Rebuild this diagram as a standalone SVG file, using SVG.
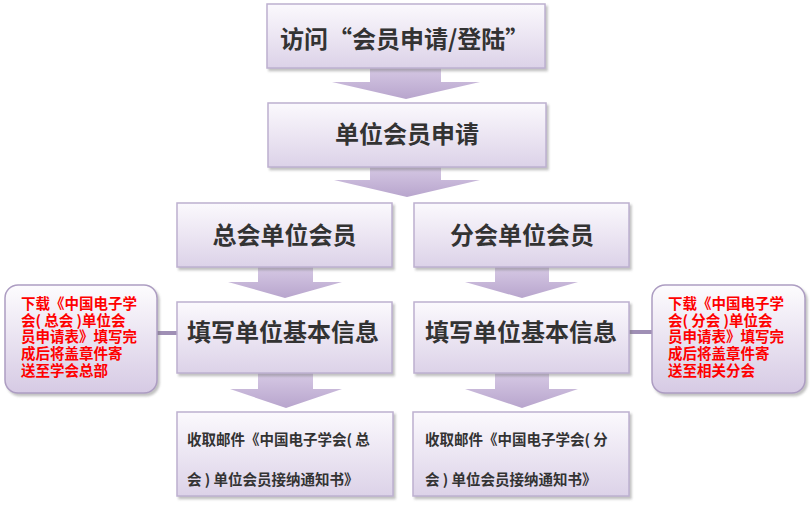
<svg xmlns="http://www.w3.org/2000/svg" width="810" height="510" viewBox="0 0 810 510">
<defs>
<linearGradient id="gBox" x1="0" y1="0" x2="0" y2="1">
<stop offset="0" stop-color="#fbf9fd"/>
<stop offset="1" stop-color="#dcd2e8"/>
</linearGradient>
<linearGradient id="gSide" x1="0" y1="0" x2="0" y2="1">
<stop offset="0" stop-color="#fdfcfe"/>
<stop offset="1" stop-color="#d6cae4"/>
</linearGradient>
<linearGradient id="gArrow" x1="0" y1="0" x2="0" y2="1">
<stop offset="0" stop-color="#d7cae5"/>
<stop offset="1" stop-color="#b8a5cd"/>
</linearGradient>
<filter id="sh" x="-10%" y="-10%" width="125%" height="130%">
<feDropShadow dx="2" dy="2.5" stdDeviation="1.2" flood-color="#777" flood-opacity="0.45"/>
</filter>
</defs>
<style>
.box{fill:url(#gBox);stroke:#bdb0d0;stroke-width:1.5;filter:url(#sh)}
.side{fill:url(#gSide);stroke:#ad9dc2;stroke-width:1.5;filter:url(#sh)}
.arr{fill:url(#gArrow);stroke:none}
.link{stroke:#9f8fb5;stroke-width:4;fill:none}
.t{font-family:"Noto Sans CJK SC","Noto Sans",sans-serif;font-weight:bold;fill:#333;font-size:24px}
.s{font-family:"Noto Sans CJK SC","Noto Sans",sans-serif;font-weight:bold;fill:#333;font-size:14.5px}
.r{font-family:"Noto Sans CJK SC","Noto Sans",sans-serif;font-weight:bold;fill:#ff0000;font-size:14.5px}
</style>
<g id="connectors">
<polygon class="arr" points="370,66 441,66 441,82 480,82 406,99 332,82 370,82"/>
<polygon class="arr" points="370,165 441,165 441,180 480,180 407,197 334,180 370,180"/>
<polygon class="arr" points="258,266 313,266 313,282 342,282 285,298 228,282 258,282"/>
<polygon class="arr" points="495,266 549,266 549,282 578,282 522,298 465,282 495,282"/>
<polygon class="arr" points="258,372 313,372 313,389 342,389 286,408 230,389 258,389"/>
<polygon class="arr" points="495,372 549,372 549,389 578,389 522,408 465,389 495,389"/>
<line class="link" x1="157" y1="333" x2="177" y2="333"/>
<line class="link" x1="629" y1="332" x2="652" y2="332"/>
</g>
<g id="n1">
<rect class="box" x="267" y="4" width="278" height="64"/>
<text class="t" x="280" y="37" dominant-baseline="central">访问“会员申请/登陆”</text>
</g>
<g id="n2">
<rect class="box" x="268" y="103" width="278" height="64"/>
<text class="t" x="407" y="132" text-anchor="middle" dominant-baseline="central">单位会员申请</text>
</g>
<g id="n3">
<rect class="box" x="177" y="203" width="215" height="64"/>
<text class="t" x="284.5" y="233" text-anchor="middle" dominant-baseline="central">总会单位会员</text>
</g>
<g id="n4">
<rect class="box" x="414" y="203" width="215" height="64"/>
<text class="t" x="522" y="233" text-anchor="middle" dominant-baseline="central">分会单位会员</text>
</g>
<g id="n5">
<rect class="box" x="177" y="302" width="215" height="71"/>
<text class="t" x="283" y="330" text-anchor="middle" dominant-baseline="central">填写单位基本信息</text>
</g>
<g id="n6">
<rect class="box" x="414" y="302" width="215" height="71"/>
<text class="t" x="521" y="330" text-anchor="middle" dominant-baseline="central">填写单位基本信息</text>
</g>
<g id="n7">
<rect class="box" x="177" y="412" width="216" height="84"/>
<text class="s" x="187" y="438" dominant-baseline="central">收取邮件《中国电子学会( 总</text>
<text class="s" x="187" y="478" dominant-baseline="central">会 ) 单位会员接纳通知书》</text>
</g>
<g id="n8">
<rect class="box" x="413" y="412" width="216" height="84"/>
<text class="s" x="425" y="438" dominant-baseline="central">收取邮件《中国电子学会( 分</text>
<text class="s" x="425" y="478" dominant-baseline="central">会 ) 单位会员接纳通知书》</text>
</g>
<g id="side-left">
<rect class="side" x="5" y="285" width="152" height="108" rx="13" ry="13"/>
<text class="r" dominant-baseline="central"><tspan x="21" y="302">下载《中国电子学</tspan><tspan x="21" y="318.5">会( 总会 )单位会</tspan><tspan x="21" y="335">员申请表》填写完</tspan><tspan x="21" y="352">成后将盖章件寄</tspan><tspan x="21" y="369">送至学会总部</tspan></text>
</g>
<g id="side-right">
<rect class="side" x="652" y="285" width="153" height="108" rx="13" ry="13"/>
<text class="r" dominant-baseline="central"><tspan x="668" y="302">下载《中国电子学</tspan><tspan x="668" y="318.5">会( 分会 )单位会</tspan><tspan x="668" y="335">员申请表》填写完</tspan><tspan x="668" y="352">成后将盖章件寄</tspan><tspan x="668" y="369">送至相关分会</tspan></text>
</g>
</svg>
